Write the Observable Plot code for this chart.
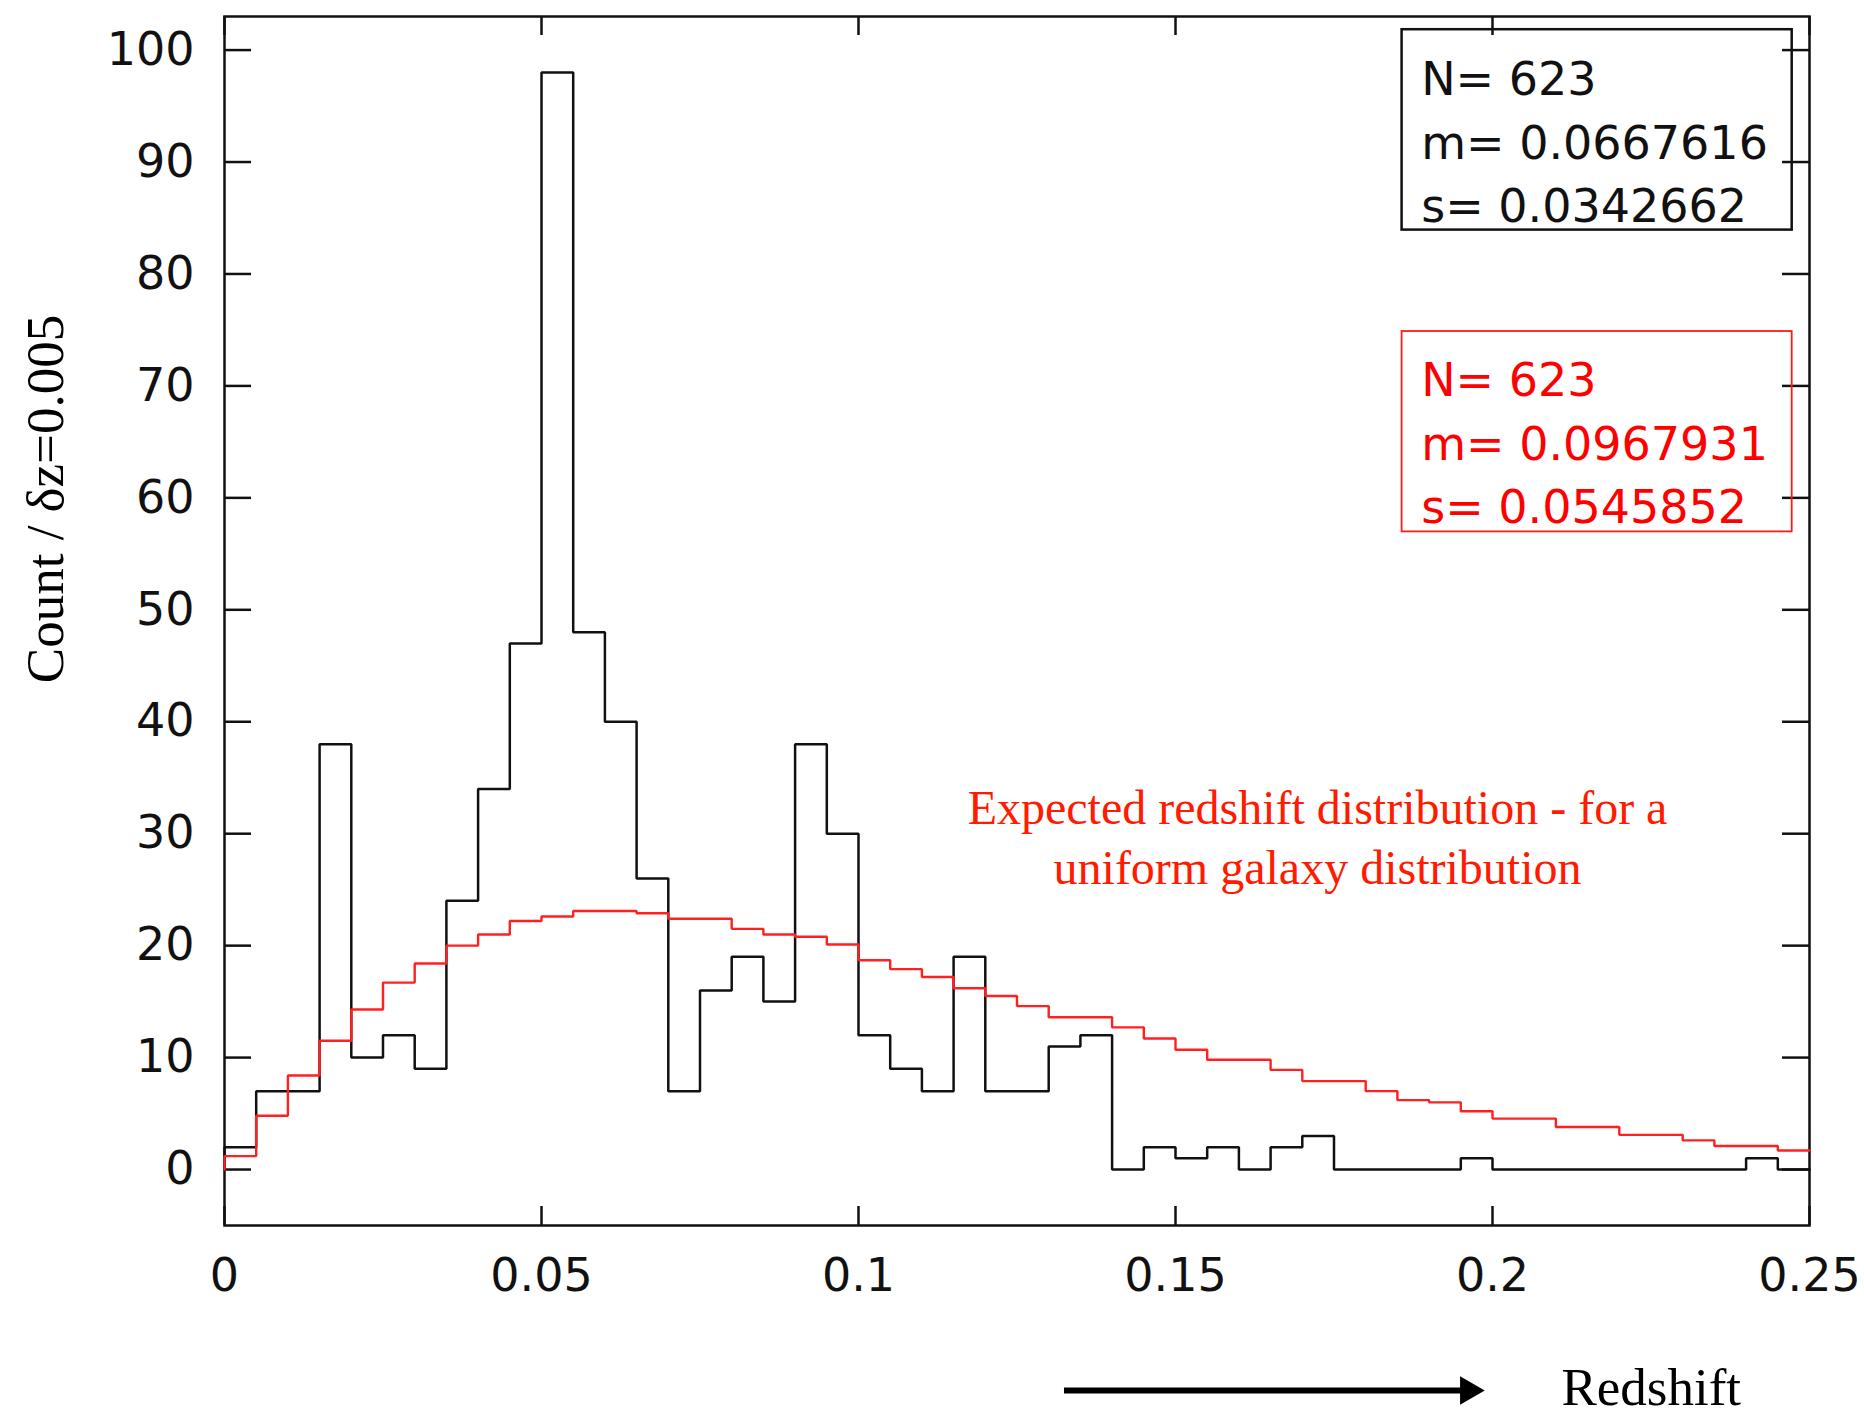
<!DOCTYPE html>
<html>
<head>
<meta charset="utf-8">
<script src="https://cdn.jsdelivr.net/npm/d3@7"></script>
<script src="https://cdn.jsdelivr.net/npm/@observablehq/plot@0.6"></script>
<style>
  html, body { margin: 0; padding: 0; background: #fff; }
  #chart svg { display: block; }
</style>
</head>
<body>
<div id="chart"></div>
<script>
// Redshift histogram (bins of dz = 0.005) against the expected distribution
const binWidth = 0.005;

const observedCounts = [
  2, 7, 7, 38, 10, 12, 9, 24, 34, 47,
  98, 48, 40, 26, 7, 16, 19, 15, 38, 30,
  12, 9, 7, 19, 7, 7, 11, 12, 0, 2,
  1, 2, 0, 2, 3, 0, 0, 0, 0, 1,
  0, 0, 0, 0, 0, 0, 0, 0, 1, 0
];

const expectedCounts = [
  1.2, 4.8, 8.4, 11.5, 14.3, 16.7, 18.4, 20.0, 21.0, 22.2,
  22.6, 23.1, 23.1, 22.9, 22.4, 22.4, 21.5, 21.0, 20.8, 20.1,
  18.7, 17.9, 17.2, 16.2, 15.5, 14.6, 13.6, 13.6, 12.7, 11.7,
  10.7, 9.8, 9.8, 8.9, 7.9, 7.9, 7.0, 6.2, 6.0, 5.2,
  4.55, 4.55, 3.8, 3.8, 3.1, 3.1, 2.6, 2.1, 2.1, 1.7
];

const xTicks = [0, 0.05, 0.1, 0.15, 0.2, 0.25];
const xTickLabels = ["0", "0.05", "0.1", "0.15", "0.2", "0.25"];
const yTicks = [0, 10, 20, 30, 40, 50, 60, 70, 80, 90, 100];
const yTickLabels = ["0", "10", "20", "30", "40", "50", "60", "70", "80", "90", "100"];

const observedStats = ["N= 623", "m= 0.0667616", "s= 0.0342662"];
const expectedStats = ["N= 623", "m= 0.0967931", "s= 0.0545852"];
const annotationLines = ["Expected redshift distribution - for a", "uniform galaxy distribution"];
const yTitle = "Count / \u03b4z=0.005";
const xTitle = "Redshift";

// Layout
const W = 1864, H = 1416;
const mL = 224, mR = 55, mT = 16, mB = 191;
const innerW = W - mL - mR;
const innerH = H - mT - mB;
const xTickLen = 19, yTickLen = 27;

// Histogram outline points: start on the baseline, one point per bin start, close at the last edge
function stepPoints(counts) {
  const pts = [{z: 0, n: 0}];
  counts.forEach((n, i) => pts.push({z: i * binWidth, n}));
  pts.push({z: counts.length * binWidth, n: counts[counts.length - 1]});
  return pts;
}

const serif = "'Liberation Serif', 'Times New Roman', serif";
const sans = "'DejaVu Sans', sans-serif";

const chart = Plot.plot({
  width: W,
  height: H,
  marginLeft: mL,
  marginRight: mR,
  marginTop: mT,
  marginBottom: mB,
  style: {fontFamily: sans, fontSize: "46px", background: "#fff", color: "#000"},
  x: {domain: [0, 0.25]},
  y: {domain: [-5, 103]},
  marks: [
    Plot.frame({stroke: "#111", strokeWidth: 2.5}),
    // inward ticks on all four sides
    Plot.ruleX(xTicks, {insetTop: innerH - xTickLen, stroke: "#111", strokeWidth: 2.5}),
    Plot.ruleX(xTicks, {insetBottom: innerH - xTickLen, stroke: "#111", strokeWidth: 2.5}),
    Plot.ruleY(yTicks, {insetRight: innerW - yTickLen, stroke: "#111", strokeWidth: 2.5}),
    Plot.ruleY(yTicks, {insetLeft: innerW - yTickLen, stroke: "#111", strokeWidth: 2.5}),
    Plot.axisX({
      ticks: xTicks, tickSize: 0, tickPadding: 33, label: null,
      tickFormat: d => xTickLabels[xTicks.indexOf(d)], fontSize: 46, fill: "#111"
    }),
    Plot.axisY({
      ticks: yTicks, tickSize: 0, tickPadding: 30, label: null,
      tickFormat: d => yTickLabels[yTicks.indexOf(d)], fontSize: 46, fill: "#111"
    }),
    // observed histogram
    Plot.line(stepPoints(observedCounts), {
      x: "z", y: "n", curve: "step-after",
      stroke: "#111", strokeWidth: 2.5, strokeLinejoin: "miter"
    }),
    // expected histogram for a uniform galaxy distribution
    Plot.line(stepPoints(expectedCounts), {
      x: "z", y: "n", curve: "step-after",
      stroke: "#ff2020", strokeWidth: 2.4, strokeLinejoin: "miter"
    }),
    // statistics boxes
    Plot.rect([0], {x1: 0.18574, x2: 0.24727, y1: 83.92, y2: 101.82, fill: "none", stroke: "#111", strokeWidth: 2.5}),
    Plot.text([observedStats.join("\n")], {
      x: 0.18875, y: 84.6, textAnchor: "start", lineAnchor: "bottom",
      lineHeight: 1.383, fontSize: 46, fontFamily: sans, fill: "#111"
    }),
    Plot.rect([0], {x1: 0.18574, x2: 0.24727, y1: 56.96, y2: 74.86, fill: "none", stroke: "#ff1a1a", strokeWidth: 1.8}),
    Plot.text([expectedStats.join("\n")], {
      x: 0.18875, y: 57.71, textAnchor: "start", lineAnchor: "bottom",
      lineHeight: 1.383, fontSize: 46, fontFamily: sans, fill: "#ff0000"
    }),
    // annotation for the red curve
    Plot.text([annotationLines.join("\n")], {
      x: 0.1724, y: 25.53, textAnchor: "middle", lineAnchor: "bottom",
      lineHeight: 1.25, fontSize: 48, fontFamily: serif, fill: "#ff1a00"
    }),
    // y-axis title
    Plot.text([yTitle], {
      frameAnchor: "left", y: 59.9, dx: -162, rotate: -90,
      textAnchor: "middle", lineAnchor: "bottom",
      fontSize: 53, fontFamily: serif, fill: "#000"
    }),
    // redshift direction arrow and label
    Plot.ruleY([-19.74], {x1: 0.13249, x2: 0.19653, stroke: "#000", strokeWidth: 6}),
    Plot.dot([0], {
      x: 0.19618, y: -19.74, symbol: "triangle", r: 10.6, rotate: 90,
      fill: "#000", stroke: "none"
    }),
    Plot.text([xTitle], {
      x: 0.21088, frameAnchor: "bottom", dy: 179,
      textAnchor: "start", lineAnchor: "bottom",
      fontSize: 53, fontFamily: serif, fill: "#000"
    })
  ]
});

document.getElementById("chart").appendChild(chart);
</script>
</body>
</html>
